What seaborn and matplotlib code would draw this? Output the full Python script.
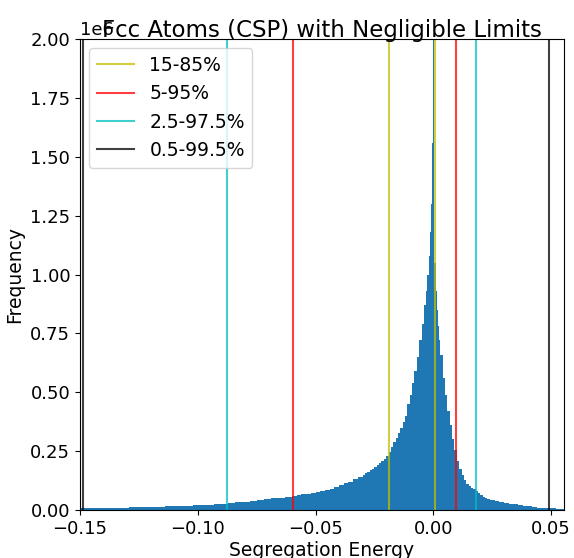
import matplotlib
matplotlib.use("Agg")
import matplotlib.pyplot as plt
import numpy as np
import pandas as pd
import seaborn as sns

# histogram: bin edges per region and counts (in millions)
region_starts = [-0.150, -0.060, -0.030, -0.003, 0.003, 0.030]
region_bins = [30, 15, 27, 12, 27, 13]
region_end = 0.056

counts_m = [
    # -0.150 .. -0.060 (step 0.003)
    0.007, 0.0075, 0.008, 0.0085, 0.009, 0.0095, 0.010, 0.011, 0.0115, 0.012,
    0.013, 0.014, 0.015, 0.016, 0.017, 0.019, 0.020, 0.021, 0.023, 0.024,
    0.027, 0.029, 0.032, 0.035, 0.038, 0.041, 0.046, 0.049, 0.053, 0.057,
    # -0.060 .. -0.030 (step 0.002)
    0.061, 0.064, 0.067, 0.070, 0.073, 0.077, 0.081, 0.086, 0.091, 0.098,
    0.105, 0.113, 0.121, 0.131, 0.141,
    # -0.030 .. -0.003 (step 0.001)
    0.150, 0.156, 0.162, 0.169, 0.176, 0.183, 0.190, 0.198, 0.207, 0.217,
    0.230, 0.248, 0.268, 0.288, 0.305, 0.325, 0.348, 0.373, 0.400, 0.450,
    0.490, 0.540, 0.590, 0.650, 0.720, 0.790, 0.870,
    # -0.003 .. 0.003 (step 0.0005)
    0.93, 1.00, 1.08, 1.18, 1.30, 1.56, 3.00, 1.05, 0.93, 0.85, 0.78, 0.72,
    # 0.003 .. 0.030 (step 0.001)
    0.66, 0.56, 0.49, 0.42, 0.36, 0.30, 0.255, 0.21, 0.175, 0.15,
    0.128, 0.112, 0.102, 0.095, 0.088, 0.081, 0.071, 0.062, 0.056, 0.051,
    0.047, 0.044, 0.042, 0.039, 0.037, 0.035, 0.033,
    # 0.030 .. 0.056 (step 0.002)
    0.031, 0.027, 0.024, 0.021, 0.018, 0.015, 0.012, 0.010, 0.009, 0.008,
    0.007, 0.006, 0.005,
]

# percentile limits
limit_labels = ["15-85%", "5-95%", "2.5-97.5%", "0.5-99.5%"]
limit_colors = ["y", "r", "c", "k"]
lower_limits = [-0.0186, -0.0596, -0.0876, -0.1487]
upper_limits = [0.0006, 0.0095, 0.0181, 0.0492]

bounds = region_starts + [region_end]
edges = np.concatenate(
    [np.linspace(bounds[i], bounds[i + 1], region_bins[i] + 1)[:-1]
     for i in range(len(region_bins))] + [[region_end]])
hist_df = pd.DataFrame({
    'energy': (edges[:-1] + edges[1:]) / 2,
    'count': np.array(counts_m) * 1e6,
})

plt.rcParams['font.family'] = ['DejaVu Sans']
plt.rcParams['font.size'] = 13

fig = plt.figure(figsize=(5.74, 5.58), dpi=100)
ax = fig.add_axes([80 / 574, 1 - 510 / 558, 484 / 574, 471 / 558])

# step element gives one filled outline, so no hairline gaps between bins
sns.histplot(data=hist_df, x='energy', weights='count', bins=edges.tolist(),
             stat='count', element='step', fill=True,
             color='#1f77b4', alpha=1, linewidth=0, ax=ax)

for lab, col, lo, hi in zip(limit_labels, limit_colors, lower_limits, upper_limits):
    ax.axvline(lo, color=col, alpha=0.75, lw=1.5, label=lab)
    ax.axvline(hi, color=col, alpha=0.75, lw=1.5)

ax.set_xlim(-0.15, 0.0555)
ax.set_ylim(0, 2e6)
ax.set_xticks([-0.15, -0.10, -0.05, 0.0, 0.05])
ax.set_yticks(np.arange(0, 2.01e6, 0.25e6))
ax.set_xlabel('Segregation Energy', fontsize=13.5, labelpad=2)
ax.set_ylabel('Frequency', fontsize=13.5)
# fixed y keeps the title down over the 1e6 offset text, as in the original
ax.set_title('Fcc Atoms (CSP) with Negligible Limits', fontsize=16.5, y=1.0, pad=1.5)
ax.legend(loc='upper left', fontsize=13.5)

fig.savefig('out.png', dpi=100)
